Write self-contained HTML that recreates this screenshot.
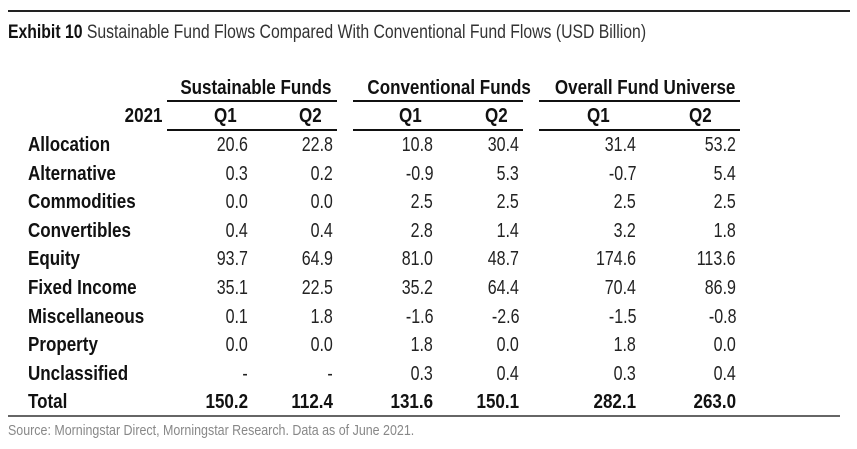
<!DOCTYPE html>
<html><head><meta charset="utf-8"><style>
body{margin:0;width:857px;height:449px;background:#fff;position:relative;overflow:hidden;font-family:"Liberation Sans",sans-serif;color:#111}
.t{position:absolute;white-space:nowrap;line-height:22px;font-size:20px}
.s{display:inline-block;transform:scaleX(0.8)}
.b .s{transform:scaleX(0.85)}
.tl .s{transform-origin:left center}
.tr .s{transform-origin:right center}
.tc .s{transform-origin:center center}
.b{font-weight:bold}
.v{color:#222}
.line{position:absolute;background:#111}
</style></head><body>
<div class="line" style="left:8px;top:10px;width:842px;height:1.5px;background:#222"></div>
<div class="t tl" style="left:8px;top:22px;font-size:19px;color:#333"><span class="s" style="transform:scaleX(0.83)"><b style="color:#111">Exhibit 10</b> Sustainable Fund Flows Compared With Conventional Fund Flows (USD Billion)</span></div>

<div class="t b tc" style="left:167px;width:170px;text-align:center;top:77px"><span class="s">Sustainable Funds</span></div>
<div class="t b tc" style="left:353px;width:170px;text-align:center;top:77px"><span class="s">Conventional Funds</span></div>
<div class="t b tc" style="left:539px;width:201px;text-align:center;top:77px"><span class="s">Overall Fund Universe</span></div>
<div class="line" style="left:167px;top:100px;width:170px;height:2px"></div>
<div class="line" style="left:353px;top:100px;width:170px;height:2px"></div>
<div class="line" style="left:539px;top:100px;width:201px;height:2px"></div>

<div class="t b tr" style="right:695px;top:105px"><span class="s">2021</span></div>
<div class="t b tc" style="left:205px;width:40px;text-align:center;top:105px"><span class="s">Q1</span></div>
<div class="t b tc" style="left:290px;width:40px;text-align:center;top:105px"><span class="s">Q2</span></div>
<div class="t b tc" style="left:390px;width:40px;text-align:center;top:105px"><span class="s">Q1</span></div>
<div class="t b tc" style="left:476px;width:40px;text-align:center;top:105px"><span class="s">Q2</span></div>
<div class="t b tc" style="left:578px;width:40px;text-align:center;top:105px"><span class="s">Q1</span></div>
<div class="t b tc" style="left:680px;width:40px;text-align:center;top:105px"><span class="s">Q2</span></div>
<div class="line" style="left:167px;top:129px;width:170px;height:2px"></div>
<div class="line" style="left:353px;top:129px;width:170px;height:2px"></div>
<div class="line" style="left:539px;top:129px;width:201px;height:2px"></div>

<div id="rows"></div>
<div class="line" style="left:8px;top:415px;width:832px;height:1.5px;background:#666"></div>
<div class="t tl" style="left:8px;top:420px;font-size:15px;color:#888"><span class="s" style="transform:scaleX(0.83)">Source: Morningstar Direct, Morningstar Research. Data as of June 2021.</span></div>
<script>
var d=[["Allocation","20.6","22.8","10.8","30.4","31.4","53.2"],
["Alternative","0.3","0.2","-0.9","5.3","-0.7","5.4"],
["Commodities","0.0","0.0","2.5","2.5","2.5","2.5"],
["Convertibles","0.4","0.4","2.8","1.4","3.2","1.8"],
["Equity","93.7","64.9","81.0","48.7","174.6","113.6"],
["Fixed Income","35.1","22.5","35.2","64.4","70.4","86.9"],
["Miscellaneous","0.1","1.8","-1.6","-2.6","-1.5","-0.8"],
["Property","0.0","0.0","1.8","0.0","1.8","0.0"],
["Unclassified","-","-","0.3","0.4","0.3","0.4"],
["Total","150.2","112.4","131.6","150.1","282.1","263.0"]];
var rx=[248,333,433,519,636,736],h="";
d.forEach(function(r,i){var y=(i==9?402:145+i*28.6)-11;var bb=i==9?" b":" v";
h+='<div class="t b tl" style="left:28px;top:'+y+'px"><span class="s">'+r[0]+'</span></div>';
for(var j=1;j<7;j++)h+='<div class="t tr'+bb+'" style="right:'+(857-rx[j-1])+'px;top:'+y+'px"><span class="s">'+r[j]+'</span></div>';});
document.getElementById("rows").innerHTML=h;
</script>
</body></html>
